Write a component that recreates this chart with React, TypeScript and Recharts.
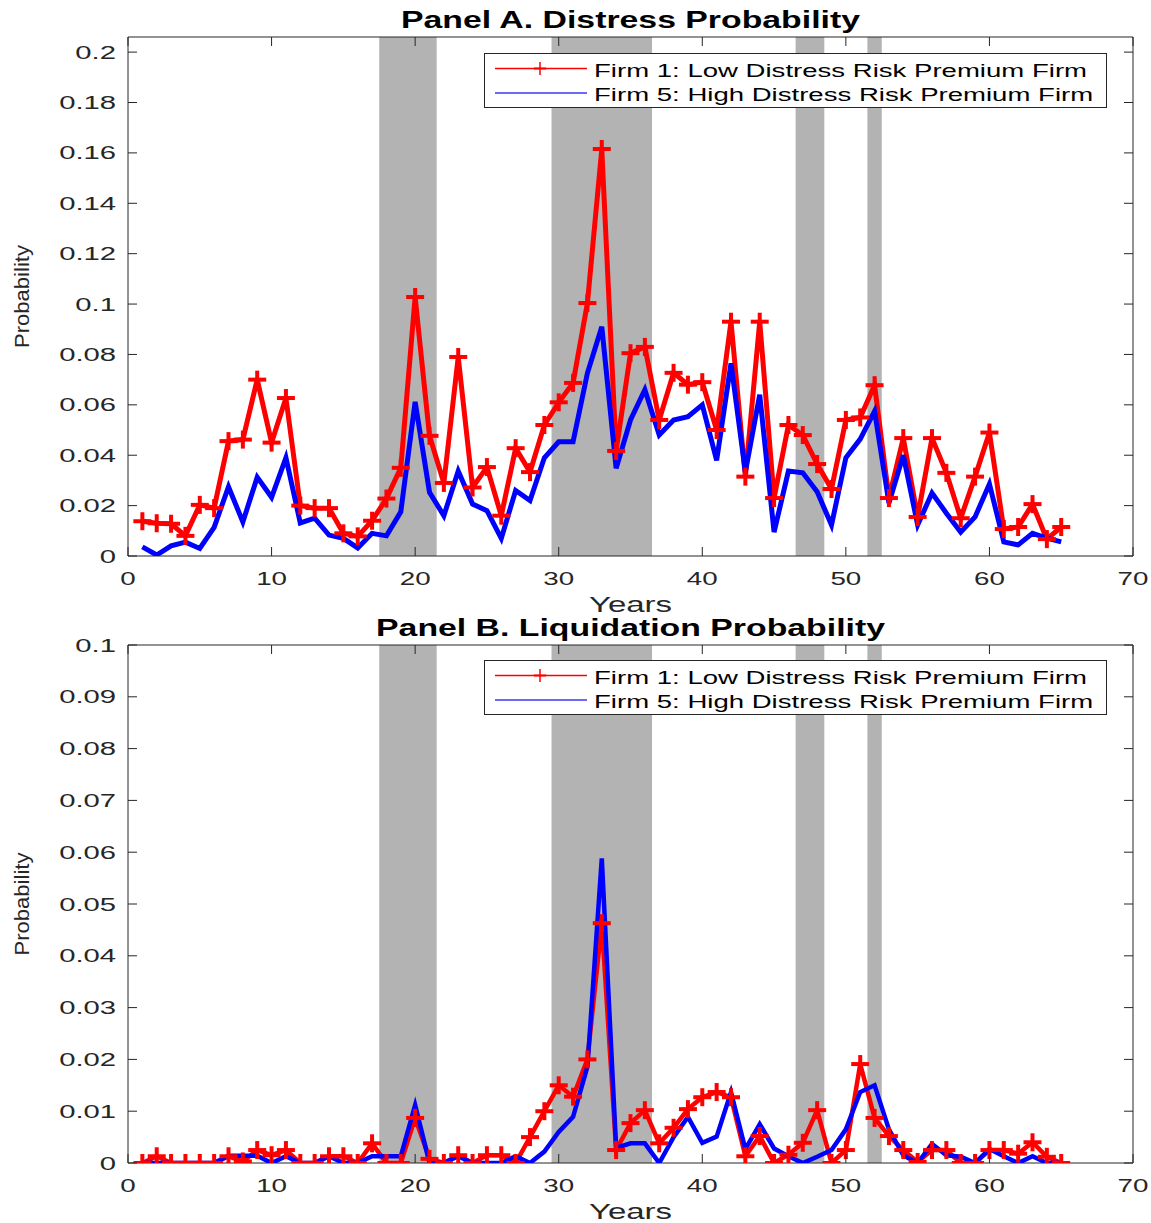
import React from "react";
import { LineChart, Line, XAxis, YAxis, ReferenceArea } from "recharts";

// model years on the horizontal axis
const YEARS = [
  1, 2, 3, 4, 5, 6, 7, 8, 9, 10, 11, 12, 13, 14, 15, 16, 17, 18, 19, 20, 21, 22,
  23, 24, 25, 26, 27, 28, 29, 30, 31, 32, 33, 34, 35, 36, 37, 38, 39, 40, 41, 42,
  43, 44, 45, 46, 47, 48, 49, 50, 51, 52, 53, 54, 55, 56, 57, 58, 59, 60, 61, 62,
  63, 64, 65,
];

// Panel A: distress probability
const DISTRESS_FIRM1 = [
  0.0138, 0.013, 0.0128, 0.008, 0.0203, 0.019, 0.0456, 0.0462, 0.07, 0.045,
  0.0627, 0.02, 0.019, 0.019, 0.009, 0.0078, 0.014, 0.0228, 0.035, 0.1028,
  0.0477, 0.029, 0.079, 0.0272, 0.0353, 0.016, 0.0428, 0.0333, 0.052, 0.061,
  0.0687, 0.1004, 0.1615, 0.0417, 0.0805, 0.083, 0.054, 0.0727, 0.068, 0.069,
  0.05, 0.093, 0.0315, 0.093, 0.023, 0.052, 0.048, 0.0365, 0.0266, 0.054, 0.055,
  0.0678, 0.023, 0.0468, 0.0155, 0.0468, 0.033, 0.015, 0.0315, 0.049, 0.0107,
  0.0115, 0.0206, 0.0067, 0.0115,
];
const DISTRESS_FIRM5 = [
  0.0036, 0.0004, 0.004, 0.0055, 0.003, 0.0114, 0.0275, 0.0135, 0.0313, 0.0233,
  0.039, 0.0131, 0.015, 0.0083, 0.007, 0.0032, 0.009, 0.008, 0.0175, 0.0612,
  0.0253, 0.016, 0.0337, 0.0206, 0.018, 0.007, 0.026, 0.022, 0.039, 0.0453,
  0.0453, 0.0726, 0.091, 0.0348, 0.054, 0.066, 0.048, 0.054, 0.0553, 0.06, 0.038,
  0.0765, 0.0333, 0.064, 0.0095, 0.0337, 0.033, 0.0255, 0.0123, 0.039, 0.0464,
  0.0575, 0.021, 0.04, 0.0123, 0.025, 0.017, 0.0095, 0.0155, 0.0286, 0.0056,
  0.0044, 0.009, 0.0071, 0.0056,
];

// Panel B: liquidation probability
const LIQUIDATION_FIRM1 = [
  0, 0.0013, 0, 0, 0, 0, 0.0013, 0.0003, 0.0025, 0.0015, 0.0025, 0, 0, 0.0013,
  0.0013, 0, 0.0038, 0, 0, 0.0087, 0.0008, 0, 0.0015, 0, 0.0015, 0.0015, 0,
  0.005, 0.01, 0.015, 0.0128, 0.02, 0.0463, 0.0025, 0.0077, 0.0102, 0.0038,
  0.0068, 0.0104, 0.0127, 0.0137, 0.0127, 0.0013, 0.0052, 0, 0.0016, 0.0039,
  0.0102, 0, 0.0025, 0.0191, 0.0087, 0.0052, 0.0025, 0.0002, 0.0025, 0.0025, 0,
  0, 0.0025, 0.0025, 0.0018, 0.004, 0.0012, 0,
];
const LIQUIDATION_FIRM5 = [
  0, 0, 0, 0, 0, 0, 0.0014, 0.0014, 0.0014, 0, 0.0013, 0, 0, 0.0013, 0, 0,
  0.0013, 0.0013, 0.0013, 0.0112, 0, 0, 0.0013, 0, 0, 0, 0.0013, 0, 0.0022,
  0.006, 0.0089, 0.0186, 0.0588, 0.0029, 0.0038, 0.0038, 0, 0.005, 0.0089,
  0.0039, 0.0051, 0.0137, 0.0027, 0.0075, 0.0028, 0.0013, 0, 0.0012, 0.0025,
  0.0065, 0.0137, 0.015, 0.0065, 0.0015, 0, 0.0037, 0.0015, 0.0012, 0, 0.0027,
  0.0013, 0, 0.0013, 0, 0,
];

// shaded periods (start, end) in years
const RECESSIONS = [
  [17.5, 21.5],
  [29.5, 36.5],
  [46.5, 48.5],
  [51.5, 52.5],
];

const X_TICKS = [0, 10, 20, 30, 40, 50, 60, 70];
const DISTRESS_TICKS = [0, 0.02, 0.04, 0.06, 0.08, 0.1, 0.12, 0.14, 0.16, 0.18, 0.2];
const LIQUIDATION_TICKS = [0, 0.01, 0.02, 0.03, 0.04, 0.05, 0.06, 0.07, 0.08, 0.09, 0.1];
const LEGEND_LABELS = [
  "Firm 1: Low Distress Risk Premium Firm",
  "Firm 5: High Distress Risk Premium Firm",
];

const FONT = '"Liberation Sans", Arial, Helvetica, sans-serif';
const INK = "#262626";
const PLOT_LEFT = 128;
const PLOT_RIGHT = 1133;
const WIDTH = 1151;

const toRows = (a: number[], b: number[]) =>
  YEARS.map((year, i) => ({ year, firm1: a[i], firm5: b[i] }));

// stretched text helper (the figure text is set wide)
function SText({
  x,
  y,
  size,
  sx = 1.5,
  anchor = "middle",
  weight = "normal",
  fill = INK,
  children,
}: any) {
  return (
    <text
      transform={`translate(${x},${y}) scale(${sx},1)`}
      textAnchor={anchor}
      fontSize={size}
      fontFamily={FONT}
      fontWeight={weight}
      fill={fill}
    >
      {children}
    </text>
  );
}

const makeXTick = (top: number, bottom: number) => (props: any) => {
  const { x, payload } = props;
  return (
    <g>
      <line x1={x} x2={x} y1={bottom} y2={bottom - 9} stroke={INK} />
      <line x1={x} x2={x} y1={top} y2={top + 9} stroke={INK} />
      <SText x={x} y={bottom + 29} size={18.5}>
        {String(payload.value)}
      </SText>
    </g>
  );
};

const YTick = (props: any) => {
  const { y, payload } = props;
  return (
    <g>
      <line x1={PLOT_LEFT} x2={PLOT_LEFT + 9} y1={y} y2={y} stroke={INK} />
      <line x1={PLOT_RIGHT} x2={PLOT_RIGHT - 9} y1={y} y2={y} stroke={INK} />
      <SText x={116} y={y + 6.5} size={18.5} sx={1.58} anchor="end">
        {String(payload.value)}
      </SText>
    </g>
  );
};

const plusDot = (props: any) => {
  const { cx, cy, index } = props;
  if (cx == null || cy == null) return <g key={index} />;
  return (
    <g key={index} stroke="#ff0000" strokeWidth={4}>
      <line x1={cx - 9} x2={cx + 9} y1={cy} y2={cy} />
      <line x1={cx} x2={cx} y1={cy - 9} y2={cy + 9} />
    </g>
  );
};

// title, axis titles drawn around the plot frame
const makeDecor = (title: string) => (props: any) => {
  const { x, y, width, height } = props.viewBox;
  const cx = x + width / 2;
  const cy = y + height / 2;
  return (
    <g>
      <SText x={cx} y={y - 9} size={23} sx={1.47} weight="bold" fill="#000">
        {title}
      </SText>
      <SText x={cx} y={y + height + 56} size={22} sx={1.5}>
        Years
      </SText>
      <text
        transform={`translate(29,${cy}) rotate(-90) scale(1.05,1)`}
        textAnchor="middle"
        fontSize={21}
        fontFamily={FONT}
        fill={INK}
      >
        Probability
      </text>
    </g>
  );
};

function LegendBox({ top }: { top: number }) {
  return (
    <svg
      width={624}
      height={56}
      style={{ position: "absolute", left: 484, top }}
    >
      <rect x={0.5} y={0.5} width={622} height={54} fill="#fff" stroke={INK} />
      <line x1={11} x2={103} y1={15.5} y2={15.5} stroke="#ff0000" strokeWidth={1.5} />
      <line x1={56} x2={56} y1={9} y2={22} stroke="#ff0000" strokeWidth={1.5} />
      <line x1={50} x2={62} y1={15.5} y2={15.5} stroke="#ff0000" strokeWidth={2} />
      <line x1={11} x2={103} y1={40} y2={40} stroke="#6a6af5" strokeWidth={2} />
      <SText x={110} y={23.5} size={18.5} sx={1.49} anchor="start" fill="#000">
        {LEGEND_LABELS[0]}
      </SText>
      <SText x={110} y={47.5} size={18.5} sx={1.49} anchor="start" fill="#000">
        {LEGEND_LABELS[1]}
      </SText>
    </svg>
  );
}

function Panel({
  title,
  top,
  height,
  marginTop,
  marginBottom,
  yMax,
  yTicks,
  rows,
  legendTop,
  lineWidth,
}: any) {
  const plotTop = marginTop;
  const plotBottom = height - marginBottom - 60;
  return (
    <div style={{ position: "absolute", left: 0, top, width: WIDTH, height }}>
      <LineChart
        width={WIDTH}
        height={height}
        data={rows}
        margin={{ top: marginTop, right: WIDTH - PLOT_RIGHT, bottom: marginBottom, left: 0 }}
      >
        <XAxis
          dataKey="year"
          type="number"
          domain={[0, 70]}
          ticks={X_TICKS}
          height={60}
          axisLine={false}
          tickLine={false}
          tick={makeXTick(plotTop, plotBottom)}
          interval={0}
        />
        <YAxis
          type="number"
          domain={[0, yMax]}
          ticks={yTicks}
          width={PLOT_LEFT}
          axisLine={false}
          tickLine={false}
          tick={<YTick />}
          interval={0}
          allowDataOverflow
        />
        {RECESSIONS.map(([a, b]) => (
          <ReferenceArea
            key={a}
            x1={a}
            x2={b}
            y1={0}
            y2={yMax}
            fill="#b3b3b3"
            fillOpacity={1}
            stroke="none"
          />
        ))}
        <ReferenceArea
          x1={0}
          x2={70}
          y1={0}
          y2={yMax}
          fill="none"
          stroke={INK}
          strokeWidth={1}
          label={{ content: makeDecor(title) }}
        />
        <Line
          dataKey="firm1"
          type="linear"
          stroke="#ff0000"
          strokeWidth={lineWidth}
          dot={plusDot}
          activeDot={false}
          isAnimationActive={false}
        />
        <Line
          dataKey="firm5"
          type="linear"
          stroke="#0000ff"
          strokeWidth={lineWidth}
          dot={false}
          activeDot={false}
          isAnimationActive={false}
        />
      </LineChart>
      <LegendBox top={legendTop} />
    </div>
  );
}

export default function App() {
  return (
    <div
      style={{
        position: "absolute",
        left: 0,
        top: 0,
        width: WIDTH,
        height: 1223,
        background: "#fff",
      }}
    >
      <Panel
        title="Panel A. Distress Probability"
        top={0}
        height={620}
        marginTop={37}
        marginBottom={4}
        yMax={0.206}
        yTicks={DISTRESS_TICKS}
        rows={toRows(DISTRESS_FIRM1, DISTRESS_FIRM5)}
        legendTop={53}
        lineWidth={5}
      />
      <Panel
        title="Panel B. Liquidation Probability"
        top={600}
        height={623}
        marginTop={45}
        marginBottom={0}
        yMax={0.1}
        yTicks={LIQUIDATION_TICKS}
        rows={toRows(LIQUIDATION_FIRM1, LIQUIDATION_FIRM5)}
        legendTop={60}
        lineWidth={4.5}
      />
    </div>
  );
}
